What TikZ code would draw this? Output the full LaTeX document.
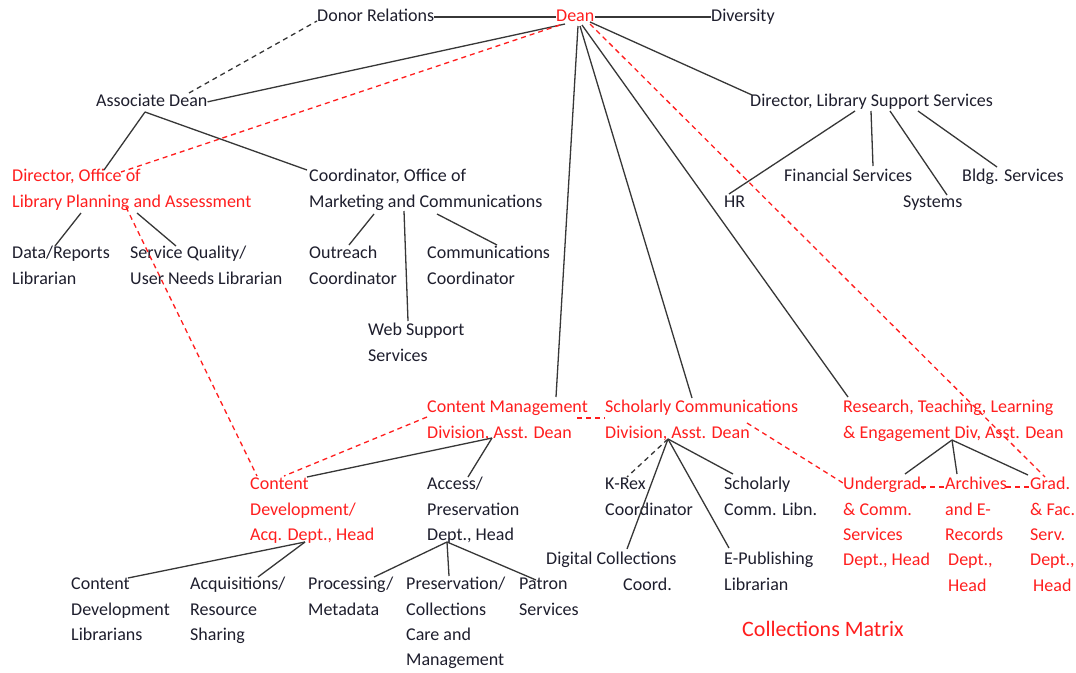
\documentclass[tikz,border=0pt]{standalone}
\usepackage{fontspec}
\setmainfont{Carlito}
\usetikzlibrary{calc}
\definecolor{ink}{RGB}{30,30,45}
\definecolor{rd}{RGB}{255,30,30}
\definecolor{ln}{RGB}{55,55,55}
\begin{document}
\begin{tikzpicture}[x=1pt,y=-1pt,
  lbl/.style={anchor=north west, inner sep=0pt, align=left, text=ink, font=\fontsize{18}{25.3}\selectfont},
  rlbl/.style={lbl, text=rd},
  con/.style={draw=ln, line width=1.3pt},
  rdash/.style={draw=rd, line width=1.3pt, dash pattern=on 5pt off 4pt},
  gdash/.style={draw=ln, line width=1.3pt, dash pattern=on 5pt off 4pt}]
\useasboundingbox[fill=white] (0,0) rectangle (1076,672);

% nodes
\node[lbl]  (donor) at (317,4) {\strut Donor Relations};
\node[rlbl] (dean) at (556,4) {\strut Dean};
\node[lbl]  (div) at (711,4) {\strut Diversity};
\node[lbl]  (assoc) at (96,89) {\strut Associate Dean};
\node[lbl]  (dlss) at (750,89) {\strut Director, Library Support Services};
\node[rlbl] (dolpa) at (12,164) {\strut Director, Office of\\Library Planning and Assessment};
\node[lbl]  (coord) at (309,164) {\strut Coordinator, Office of\\Marketing and Communications};
\node[lbl]  (hr) at (724,190) {\strut HR};
\node[lbl]  (fin) at (784,164) {\strut Financial Services};
\node[lbl]  (sys) at (903,190) {\strut Systems};
\node[lbl]  (bldg) at (962,164) {\strut Bldg. Services};
\node[lbl]  (data) at (12,241) {\strut Data/Reports\\Librarian};
\node[lbl]  (sq) at (130,241) {\strut Service Quality/\\User Needs Librarian};
\node[lbl]  (outreach) at (309,241) {\strut Outreach\\Coordinator};
\node[lbl]  (comms) at (427,241) {\strut Communications\\Coordinator};
\node[lbl]  (web) at (368,318) {\strut Web Support\\Services};
\node[rlbl] (cm) at (427,395) {\strut Content Management\\Division, Asst. Dean};
\node[rlbl] (sc) at (605,395) {\strut Scholarly Communications\\Division, Asst. Dean};
\node[rlbl] (rtl) at (843,395) {\strut Research, Teaching, Learning\\\& Engagement Div, Asst. Dean};
\node[rlbl] (cd) at (250,472) {\strut Content\\Development/\\Acq. Dept., Head};
\node[lbl]  (ap) at (427,472) {\strut Access/\\Preservation\\Dept., Head};
\node[lbl]  (krex) at (605,472) {\strut K-Rex\\Coordinator};
\node[lbl]  (scl) at (724,472) {\strut Scholarly\\Comm. Libn.};
\node[rlbl] (ug) at (843,472) {\strut Undergrad.\\\& Comm.\\Services\\Dept., Head};
\node[rlbl] (arch) at (945,472) {\strut Archives\\and E-\\Records\\\hspace*{3pt}Dept.,\\\hspace*{3pt}Head};
\node[rlbl] (grad) at (1030,472) {\strut Grad.\\\& Fac.\\Serv.\\Dept.,\\\hspace*{3pt}Head};
\node[lbl]  (dcc) at (546,547) {\strut Digital Collections\\\hspace*{77pt}Coord.};
\node[lbl]  (epub) at (724,547) {\strut E-Publishing\\Librarian};
\node[lbl]  (cdl) at (71,572) {\strut Content\\Development\\Librarians};
\node[lbl]  (acq) at (190,572) {\strut Acquisitions/\\Resource\\Sharing};
\node[lbl]  (proc) at (308,572) {\strut Processing/\\Metadata};
\node[lbl]  (pres) at (406,572) {\strut Preservation/\\Collections\\Care and\\Management};
\node[lbl]  (patron) at (519,572) {\strut Patron\\Services};
\node[rlbl, font=\fontsize{22}{26}\selectfont] (matrix) at (742,618) {\strut Collections Matrix};

% top row
\draw[con] (donor.east) -- (dean.west);
\draw[con] (dean.east) -- (div.west);
\draw[gdash] ($(assoc.north west)+(93,4)$) -- ($(donor.north west)+(0,17)$);
\draw[con] ($(dean.north west)+(9,20)$) -- (assoc.east);
\draw[rdash] ($(dean.north west)+(4,21)$) -- ($(dolpa.north west)+(109,8)$);
\draw[con] ($(dean.north west)+(34,18)$) -- ($(dlss.north west)+(2,6)$);
\draw[con] ($(dean.north west)+(22,22)$) -- ($(cm.north west)+(129,2)$);
\draw[con] ($(dean.north west)+(24,22)$) -- ($(sc.north west)+(87,3)$);
\draw[con] ($(dean.north west)+(26,21)$) -- ($(rtl.north west)+(5,2)$);
\draw[rdash] ($(dean.north west)+(34,20)$) -- ($(grad.north west)+(15,5)$);

% associate dean
\draw[con] ($(assoc.north west)+(49,23)$) -- ($(dolpa.north west)+(92,6)$);
\draw[con] ($(assoc.north west)+(49,23)$) -- ($(coord.north west)+(-2,6)$);

% library support services
\draw[con] ($(dlss.north west)+(105,22)$) -- ($(hr.north west)+(5,4)$);
\draw[con] ($(dlss.north west)+(121,22)$) -- ($(fin.north west)+(89,2)$);
\draw[con] ($(dlss.north west)+(140,22)$) -- ($(sys.north west)+(44,5)$);
\draw[con] ($(dlss.north west)+(168,22)$) -- ($(bldg.north west)+(35,3)$);

% planning and assessment
\draw[con] ($(dolpa.north west)+(69,49)$) -- ($(data.north west)+(43,5)$);
\draw[con] ($(dolpa.north west)+(125,49)$) -- ($(sq.north west)+(46,5)$);
\draw[rdash] ($(dolpa.north west)+(114,43)$) -- ($(cd.north west)+(7,4)$);

% marketing
\draw[con] ($(coord.north west)+(65,50)$) -- ($(outreach.north west)+(40,4)$);
\draw[con] ($(coord.north west)+(95,47)$) -- ($(web.north west)+(40,3)$);
\draw[con] ($(coord.north west)+(128,50)$) -- ($(comms.north west)+(70,4)$);

% content management
\draw[rdash] ($(cm.north west)+(0,22)$) -- ($(cd.north west)+(34,4)$);
\draw[con] ($(cm.north west)+(65,43)$) -- ($(cd.north west)+(57,5)$);
\draw[con] ($(cm.north west)+(65,43)$) -- ($(ap.north west)+(41,5)$);
\draw[rdash] ($(cm.north west)+(150,23)$) -- ($(sc.north west)+(0,23)$);

% scholarly communications
\draw[gdash] ($(sc.north west)+(63,44)$) -- ($(krex.north west)+(22,5)$);
\draw[con] ($(sc.north west)+(63,44)$) -- ($(dcc.north west)+(81,2)$);
\draw[con] ($(sc.north west)+(63,44)$) -- ($(epub.north west)+(5,1)$);
\draw[con] ($(sc.north west)+(63,44)$) -- ($(scl.north west)+(9,2)$);
\draw[rdash] ($(sc.north west)+(142,28)$) -- ($(ug.north west)+(0,11)$);

% research teaching learning
\draw[con] ($(rtl.north west)+(109,45)$) -- ($(ug.north west)+(62,2)$);
\draw[con] ($(rtl.north west)+(109,45)$) -- ($(arch.north west)+(12,2)$);
\draw[con] ($(rtl.north west)+(109,45)$) -- ($(grad.north west)+(-2,3)$);
\draw[rdash] ($(ug.north west)+(78,15)$) -- ($(arch.north west)+(-1,15)$);
\draw[rdash] ($(arch.north west)+(61,15)$) -- ($(grad.north west)+(-1,15)$);

% access / preservation
\draw[con] ($(ap.north west)+(20,70)$) -- ($(proc.north west)+(66,5)$);
\draw[con] ($(ap.north west)+(20,70)$) -- ($(pres.north west)+(43,4)$);
\draw[con] ($(ap.north west)+(20,70)$) -- ($(patron.north west)+(17,8)$);

% content development
\draw[con] ($(cd.north west)+(55,70)$) -- ($(cdl.north west)+(57,6)$);
\draw[con] ($(cd.north west)+(55,70)$) -- ($(acq.north west)+(68,5)$);
\end{tikzpicture}
\end{document}
